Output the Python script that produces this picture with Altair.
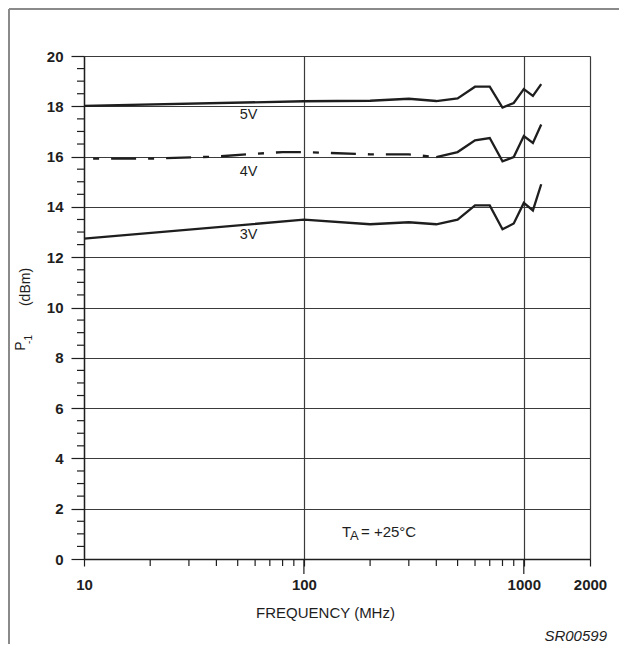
import altair as alt
import pandas as pd

FONT = "Liberation Sans"
INK = "#1e1e1e"

# ---- data ----
freq_5v = [10, 100, 200, 300, 400, 500, 600, 700, 800, 900, 1000, 1100, 1200]
p1_5v = [18.02, 18.2, 18.22, 18.3, 18.21, 18.31, 18.78, 18.78, 17.95, 18.13, 18.68, 18.41, 18.88]

freq_4v_dash = [11, 20, 40, 55, 80, 100, 200, 300, 400]
p1_4v_dash = [15.92, 15.92, 16.0, 16.09, 16.18, 16.18, 16.09, 16.09, 15.98]
freq_4v_solid = [400, 500, 600, 700, 800, 900, 1000, 1100, 1200]
p1_4v_solid = [15.98, 16.18, 16.65, 16.74, 15.81, 15.98, 16.82, 16.54, 17.28]

freq_3v = [10, 100, 200, 300, 400, 500, 600, 700, 800, 900, 1000, 1100, 1200]
p1_3v = [12.74, 13.49, 13.31, 13.39, 13.31, 13.49, 14.06, 14.06, 13.11, 13.34, 14.16, 13.86, 14.9]

series_labels = ["5V", "4V", "3V"]
label_freq = [56, 56, 56]
label_p1 = [17.64, 15.39, 12.87]

x_tick_labels = [10, 100, 1000, 2000]
x_minor = [20, 30, 40, 50, 60, 70, 80, 90, 200, 300, 400, 500, 600, 700, 800, 900]
x_long = [100, 1000]
y_major = [0, 2, 4, 6, 8, 10, 12, 14, 16, 18, 20]
y_minor = [0.5, 1, 1.5, 2.5, 3, 3.5, 4.5, 5, 5.5, 6.5, 7, 7.5, 8.5, 9, 9.5,
           10.5, 11, 11.5, 12.5, 13, 13.5, 14.5, 15, 15.5, 16.5, 17, 17.5,
           18.5, 19, 19.5]

ta_freq = [149]
ta_p1 = [1.06]

# ---- tables ----
solid_df = pd.concat([
    pd.DataFrame({"freq": freq_5v, "p1": p1_5v, "s": "5V"}),
    pd.DataFrame({"freq": freq_4v_solid, "p1": p1_4v_solid, "s": "4V"}),
    pd.DataFrame({"freq": freq_3v, "p1": p1_3v, "s": "3V"}),
])
dash_df = pd.DataFrame({"freq": freq_4v_dash, "p1": p1_4v_dash})
lab_df = pd.DataFrame({"freq": label_freq, "p1": label_p1, "t": series_labels})
xminor_df = pd.DataFrame({"freq": x_minor})
xlong_df = pd.DataFrame({"freq": x_long})
yminor_df = pd.DataFrame({"p1": y_minor})
ta_df = pd.DataFrame({"freq": ta_freq, "p1": ta_p1})

W, H = 506, 503
PL, PT, PR, PB = 76, 48, 29, 85

xscale = alt.Scale(type="log", domain=[10, 2000], nice=False)
yscale = alt.Scale(domain=[0, 20], nice=False, zero=False)

x_axis = alt.Axis(
    values=x_tick_labels, format="d", title="FREQUENCY (MHz)",
    grid=True, gridColor="#3a3a3a", gridWidth=1.2,
    tickSize=7, tickColor=INK, tickWidth=1.2,
    domainColor=INK, domainWidth=1.4,
    labelFont=FONT, labelFontSize=15, labelFontWeight="bold", labelColor=INK,
    labelPadding=11, labelFlush=False,
    titleFont=FONT, titleFontSize=15, titleFontWeight="normal", titleColor=INK,
    titlePadding=13, titleX=241,
)
y_axis = alt.Axis(
    values=y_major, title=None,
    grid=True, gridColor="#3a3a3a", gridWidth=1.2,
    tickSize=13, tickColor=INK, tickWidth=1.2,
    domainColor=INK, domainWidth=1.4,
    labelFont=FONT, labelFontSize=15, labelFontWeight="bold", labelColor=INK,
    labelPadding=8,
)


def X():
    return alt.X("freq:Q", scale=xscale, axis=x_axis)


def Y():
    return alt.Y("p1:Q", scale=yscale, axis=y_axis)


lines = alt.Chart(solid_df).mark_line(color=INK, strokeWidth=2.3).encode(
    x=X(), y=Y(), detail="s:N"
)
dashed = alt.Chart(dash_df).mark_line(
    color=INK, strokeWidth=2.3, strokeDash=[25, 12, 6, 12], strokeDashOffset=37
).encode(x=X(), y=Y())
labels = alt.Chart(lab_df).mark_text(
    font=FONT, fontSize=14.5, color=INK, align="center", baseline="middle"
).encode(x=X(), y=Y(), text="t:N")

xminor = alt.Chart(xminor_df).mark_rule(color=INK, strokeWidth=1.2).encode(
    x=X(), y=alt.value(H), y2=alt.value(H + 7),
)
xlong = alt.Chart(xlong_df).mark_rule(color=INK, strokeWidth=1.2).encode(
    x=X(), y=alt.value(H), y2=alt.value(H + 15),
)
yminor = alt.Chart(yminor_df).mark_rule(color=INK, strokeWidth=1.2).encode(
    y=Y(), x=alt.value(-7), x2=alt.value(0),
)

ta_T = alt.Chart(ta_df).mark_text(
    font=FONT, fontSize=15, color=INK, align="left", baseline="middle", text="T"
).encode(x=X(), y=Y())
ta_A = alt.Chart(ta_df).mark_text(
    font=FONT, fontSize=13, color=INK, align="left", baseline="middle", text="A", dx=8, dy=4
).encode(x=X(), y=Y())
ta_rest = alt.Chart(ta_df).mark_text(
    font=FONT, fontSize=15, color=INK, align="left", baseline="middle", text="= +25°C", dx=19
).encode(x=X(), y=Y())

# y-axis title with subscript
yt_P = alt.Chart(ta_df).mark_text(
    font=FONT, fontSize=14, color=INK, angle=270, align="center", baseline="middle", text="P"
).encode(x=alt.value(-63), y=alt.value(290))
yt_sub = alt.Chart(ta_df).mark_text(
    font=FONT, fontSize=10, color=INK, angle=270, align="center", baseline="middle", text="-1"
).encode(x=alt.value(-55.5), y=alt.value(283.5))
yt_unit = alt.Chart(ta_df).mark_text(
    font=FONT, fontSize=14, color=INK, angle=270, align="center", baseline="middle", text="(dBm)"
).encode(x=alt.value(-58), y=alt.value(231))

# outer frame (left and top)
frame_left = alt.Chart(ta_df).mark_rule(color="#8a8a8a", strokeWidth=2).encode(
    x=alt.value(-PL + 1), y=alt.value(-PT + 1), y2=alt.value(H + PB)
)
frame_top = alt.Chart(ta_df).mark_rule(color="#8a8a8a", strokeWidth=2).encode(
    x=alt.value(-PL + 1), x2=alt.value(W + PR), y=alt.value(-PT + 1)
)

code = alt.Chart(ta_df).mark_text(
    font=FONT, fontSize=15, fontStyle="italic", color=INK, align="right",
    baseline="middle", text="SR00599"
).encode(x=alt.value(W + 17), y=alt.value(H + 77))

chart = alt.layer(
    lines, dashed, labels, xminor, xlong, yminor, ta_T, ta_A, ta_rest,
    yt_P, yt_sub, yt_unit, frame_left, frame_top, code
).properties(
    width=W, height=H,
    autosize=alt.AutoSizeParams(type="none"),
    padding={"left": PL, "top": PT, "right": PR, "bottom": PB},
).configure_view(
    stroke="#6a6a6a", strokeWidth=1.5
).configure(background="white")

chart.save("out.html", embed_options={"renderer": "svg", "actions": False})
